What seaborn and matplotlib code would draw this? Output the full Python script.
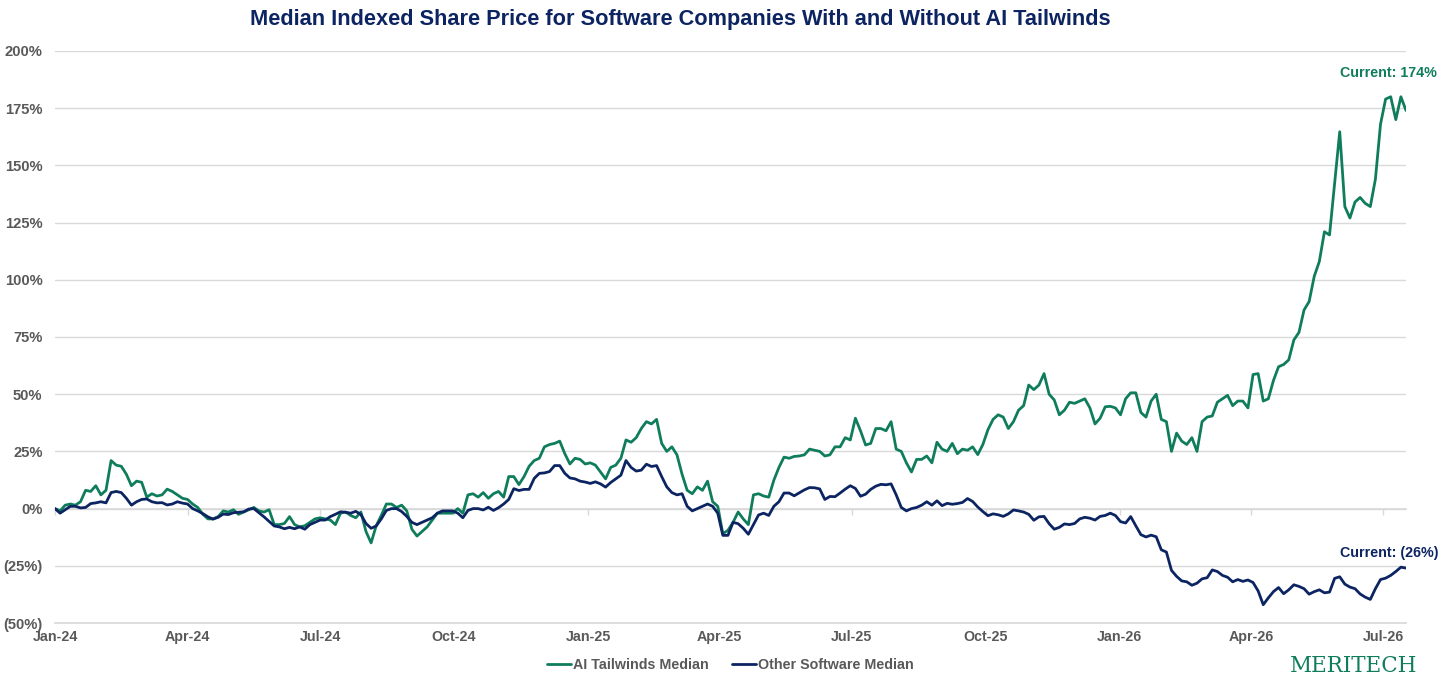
import numpy as np
import pandas as pd
import seaborn as sns
import matplotlib.pyplot as plt
import matplotlib.dates as mdates
from matplotlib.ticker import FuncFormatter, NullFormatter

# indexed share price change (%), sampled twice a week from 1-Jan-24
ai_tailwinds = [
    0, -1, 1.5, 2, 1.5, 3, 8, 7.5, 10, 6,
    8, 21, 19, 18.5, 15, 10, 12, 11.5, 5, 6.5,
    5.5, 6, 8.5, 7.5, 6, 4.5, 4, 2, 0.5, -2.5,
    -4.5, -4.5, -3.5, -1, -1.5, -0.5, -2.5, -1.5, -0.5, 0.5,
    -1, -1.5, -0.5, -7, -7, -6.5, -3.5, -7, -8, -7.5,
    -6, -4.5, -4, -4.5, -5, -7, -2, -1.5, -3, -4,
    -1.5, -10, -15, -7.5, -3, 2, 2, 0.5, 1.5, -1,
    -9, -12, -10, -8, -5, -2, -2, -2, -2, 0,
    -2, 6, 6.5, 5, 7, 4.5, 6.5, 7.5, 5, 14,
    14, 10.5, 14, 18.5, 21, 22, 27, 28, 28.5, 29.5,
    24, 19.5, 22, 21.5, 19.5, 20, 19, 16, 13, 18,
    19, 22, 30, 29, 31, 35, 38, 37, 39, 28.5,
    25, 27, 23.5, 15, 8, 6.5, 9.5, 8, 12, 3,
    1, -11, -9.5, -6, -1.5, -4.5, -7, 6, 6.5, 5.5,
    5, 12.4, 18, 22.5, 22, 22.8, 23, 23.5, 26, 25.5,
    25, 23, 23.5, 27, 27, 31, 30, 39.5, 34, 27.8,
    28.5, 35, 35, 34, 38, 26, 25, 20, 16, 21.5,
    21.5, 23, 20, 29, 26, 25, 28.5, 24, 26, 25.5,
    27, 23.6, 28, 34.5, 39, 41, 40, 35, 38, 43,
    45, 54, 52, 54, 59, 50, 47.5, 41, 43, 46.5,
    46, 47, 48, 44, 37, 39.5, 44.5, 44.7, 44, 41,
    48, 50.6, 50.6, 42, 40, 47, 50, 39, 38, 25,
    33, 29.5, 28, 31, 25, 38, 40, 40.5, 46.5, 48,
    49.5, 45, 47, 47, 44, 58.6, 59, 47, 48, 56,
    62, 63, 65, 73.7, 77, 86.8, 90.5, 101.5, 108, 121,
    119.6, 142, 164.7, 132, 127, 134, 136, 133.4, 132, 144,
    168, 179, 180, 170, 180, 174,
]

other_software = [
    0, -2, -0.5, 1, 1, 0.3, 0.5, 2.2, 2.5, 3,
    2.5, 7, 7.5, 7, 4.5, 1.5, 3, 4, 4.2, 3,
    2.5, 2.6, 1.6, 2, 3, 2.4, 2, 0, -1, -2.2,
    -3.6, -4.6, -3.8, -2.4, -2.6, -1.8, -1.6, -1.4, -0.2, 0,
    -1.8, -3.6, -5.6, -7.6, -8, -8.8, -8.2, -8.8, -8, -9,
    -7, -6, -5, -5, -3.5, -2.5, -1.4, -1.6, -2, -1.2,
    -2.6, -6.5, -8.6, -7.6, -4.5, -0.8, 0, 0, -1.3, -3.4,
    -6, -7, -6, -5, -4, -2, -1, -1, -1, -2,
    -4, -0.8, 0, 0, -0.6, 0.6, -0.8, 0.4, 2, 4,
    8.7, 7.9, 8.4, 8.4, 13.2, 15.4, 15.6, 16.2, 18.8, 18.8,
    15.4, 13.4, 13, 12, 11.6, 11, 11.7, 10.8, 9.4, 11.4,
    13, 14.6, 21, 18, 16.4, 16.8, 19.4, 18.4, 18.8, 14,
    9.5, 7, 6, 6.5, 1, -1, 0, 1, 2, 1,
    -2, -11.7, -11.7, -6, -6.6, -8.6, -11.2, -7, -2.8, -2,
    -3, 1, 3, 6.8, 6.8, 5.6, 6.9, 8.2, 9.2, 9.1,
    8.6, 4, 5.3, 5.2, 6.8, 8.5, 10, 8.8, 5.4, 6.3,
    8.4, 9.8, 10.6, 10.4, 10.8, 6, 0.5, -1, 0, 0.5,
    1.5, 3, 1.5, 3.4, 1.3, 2.3, 1.9, 2.2, 2.7, 4.4,
    3.1, 0.7, -1.3, -3.1, -2.3, -2.7, -3.4, -2.3, -0.6, -1,
    -1.5, -2.5, -5.1, -3.6, -3.4, -6.6, -9, -8.2, -6.7, -7,
    -6.5, -4.5, -3.8, -4.2, -5, -3.4, -3, -2, -3, -5.7,
    -6.3, -3.5, -7.5, -11.4, -12.4, -11.6, -12.3, -18, -19, -27,
    -29.6, -31.6, -32, -33.5, -32.6, -30.7, -30.2, -26.8, -27.5, -29.2,
    -30, -32, -31, -31.8, -31.2, -32.3, -36, -42, -39, -36.3,
    -34.5, -37.2, -35.5, -33.3, -34, -35, -37.4, -36.3, -35.5, -36.8,
    -36.5, -30.5, -29.8, -33, -34.3, -35, -37.3, -38.7, -39.7, -35,
    -31, -30.4, -29.2, -27.5, -25.6, -26,
]

series_names = ['AI Tailwinds Median', 'Other Software Median']
title = 'Median Indexed Share Price for Software Companies With and Without AI Tailwinds'

GREEN = '#0f7d5c'
NAVY = '#0c2461'
GREY = '#595959'
GRID = '#d9d9d9'

dates = pd.date_range('2024-01-01', periods=len(ai_tailwinds), freq='84h')
df = pd.DataFrame({
    'date': list(dates) * 2,
    'value': ai_tailwinds + other_software,
    'series': [series_names[0]] * len(dates) + [series_names[1]] * len(dates),
})

sns.set_theme(style='white')
plt.rcParams['font.family'] = ['Liberation Sans', 'DejaVu Sans']
plt.rcParams['font.weight'] = 'bold'

fig = plt.figure(figsize=(14.56, 6.82), dpi=100)
ax = fig.add_axes([55 / 1456, 1 - 623 / 682, 1351 / 1456, 572 / 682])

sns.lineplot(data=df, x='date', y='value', hue='series', palette=[GREEN, NAVY],
             linewidth=2.0, ax=ax)

# y axis
ax.set_ylim(-50, 200)
ax.set_yticks(range(-50, 201, 25))
ax.yaxis.set_major_formatter(FuncFormatter(
    lambda v, _: f'({abs(v):.0f}%)' if v < 0 else f'{v:.0f}%'))
ax.yaxis.grid(True, color=GRID, linewidth=1)
ax.tick_params(axis='y', length=0, pad=9, labelsize=10.6, labelcolor=GREY)

# x axis
ax.set_xlim(dates[0], dates[-1])
ax.xaxis.set_major_locator(mdates.MonthLocator(bymonth=[1, 4, 7, 10]))
ax.xaxis.set_major_formatter(mdates.DateFormatter('%b-%y'))
ax.tick_params(axis='x', length=0, pad=5, labelsize=10.3, labelcolor=GREY)
ax.set_xlabel('')
ax.set_ylabel('')

for side in ['left', 'right', 'top']:
    ax.spines[side].set_visible(False)
ax.spines['bottom'].set_color(GRID)

# category axis crossing at zero with small tick marks
sec = ax.secondary_xaxis(0, transform=ax.transData)
sec.xaxis.set_major_locator(mdates.MonthLocator(bymonth=[1, 4, 7, 10]))
sec.xaxis.set_major_formatter(NullFormatter())
sec.tick_params(axis='x', length=4, width=1, color=GRID)
sec.spines['bottom'].set_color(GRID)

# end labels
ax.annotate('Current: 174%', xy=(dates[-1], ai_tailwinds[-1]), xytext=(-13, 27),
            textcoords='offset points', ha='center', va='center',
            color=GREEN, fontsize=10.3, fontweight='bold')
ax.annotate('Current: (26%)', xy=(dates[-1], other_software[-1]), xytext=(-12, 11),
            textcoords='offset points', ha='center', va='center',
            color=NAVY, fontsize=10.3, fontweight='bold')

handles, labels = ax.get_legend_handles_labels()
ax.legend(handles, labels, loc='center', bbox_to_anchor=(0.5, -0.073), ncol=2,
          frameon=False, handlelength=1.7, handletextpad=0.15, columnspacing=1.6,
          fontsize=10.3, labelcolor=GREY)

fig.text(680 / 1456, 1 - 19 / 682, title, ha='center', va='center',
         fontsize=15.7, color=NAVY, fontweight='bold')
fig.text(1417 / 1456, 1 - 666 / 682, 'MERITECH', ha='right', va='center',
         fontsize=15.5, color=GREEN, fontweight='normal', family='DejaVu Serif')

fig.savefig('out.png', dpi=100, facecolor='white')
